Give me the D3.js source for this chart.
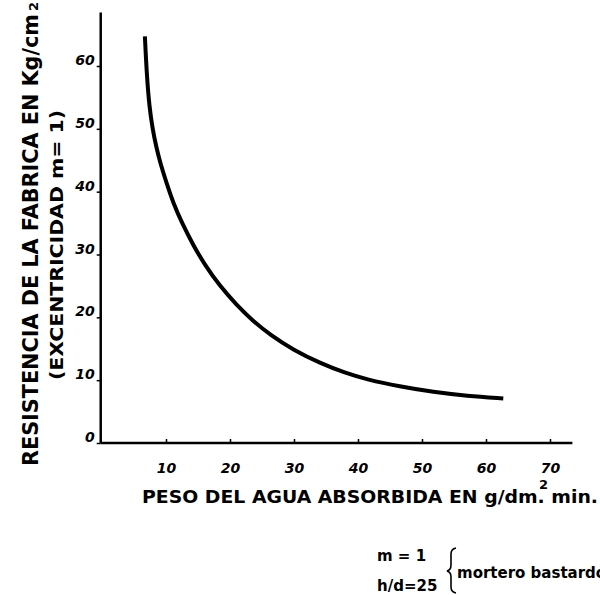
<!DOCTYPE html>
<html>
<head>
<meta charset="utf-8">
<script src="https://cdn.jsdelivr.net/npm/d3@7"></script>
<style>
  body { margin: 0; background: #fff; }
  text { fill: #000; }
</style>
</head>
<body>
<svg id="chart"></svg>
<script>
// data
var absorcion = [6.7, 7.0, 7.4, 7.9, 8.5, 9.1, 10.1, 11.1, 12.5, 14.3, 16.1, 18.4, 21.0, 23.6, 26.3, 29.9, 34.1, 38.0, 41.4, 46.5, 51.8, 57.0, 62.7];
var resistencia = [64.7, 58.5, 53.5, 50.0, 47.0, 44.6, 41.3, 38.3, 35.0, 31.4, 28.3, 25.0, 22.0, 19.4, 17.2, 14.8, 12.7, 11.15, 10.1, 9.0, 8.1, 7.5, 7.1];
var xTicks = [10, 20, 30, 40, 50, 60, 70];
var yTicks = [0, 10, 20, 30, 40, 50, 60];

// basic settings
var width = 600, height = 595;
var svg = d3.select("#chart").attr("width", width).attr("height", height);

var x = d3.scaleLinear().domain([0, 70]).range([102, 550]);
var y = d3.scaleLinear().domain([0, 60]).range([443, 66]);

var data = absorcion.map(function(d, i) { return {x: d, y: resistencia[i]}; });

// axis lines
svg.append("line")
  .attr("x1", x(-0.2)).attr("x2", x(-0.2))
  .attr("y1", y(0)).attr("y2", y(68.5))
  .attr("stroke", "#000").attr("stroke-width", 2.5);
svg.append("line")
  .attr("x1", x(-0.2)).attr("x2", x(73.5))
  .attr("y1", y(0)).attr("y2", y(0))
  .attr("stroke", "#000").attr("stroke-width", 2.5);

// x ticks
var xAxis = svg.append("g")
  .attr("transform", "translate(0," + y(0) + ")")
  .call(d3.axisBottom(x).tickValues(xTicks).tickSize(-4).tickPadding(20));
xAxis.select(".domain").remove();
xAxis.selectAll("line").attr("stroke-width", 1.5);
xAxis.selectAll("text")
  .style("font-family", "DejaVu Sans")
  .style("font-size", "14px")
  .style("font-style", "italic")
  .style("font-weight", "bold");

// y ticks
var yAxis = svg.append("g")
  .attr("transform", "translate(" + x(-0.2) + ",0)")
  .call(d3.axisLeft(y).tickValues(yTicks).tickSize(4).tickPadding(2));
yAxis.select(".domain").remove();
yAxis.selectAll("line").attr("stroke-width", 1.5);
yAxis.selectAll("text")
  .attr("dy", "-0.1em")
  .style("font-family", "DejaVu Sans")
  .style("font-size", "14px")
  .style("font-style", "italic")
  .style("font-weight", "bold");

// curve
var line = d3.line()
  .x(function(d) { return x(d.x); })
  .y(function(d) { return y(d.y); })
  .curve(d3.curveBasis);

svg.append("path")
  .datum(data)
  .attr("d", line)
  .attr("fill", "none")
  .attr("stroke", "#000")
  .attr("stroke-width", 4)
  .attr("stroke-linecap", "butt");

// x title
svg.append("text")
  .attr("x", 142).attr("y", 503)
  .attr("textLength", 456).attr("lengthAdjust", "spacingAndGlyphs")
  .style("font-family", "DejaVu Sans").style("font-weight", "bold").style("font-size", "17px")
  .text("PESO DEL AGUA  ABSORBIDA EN g/dm. min.");
svg.append("text")
  .attr("x", 539).attr("y", 489)
  .style("font-family", "DejaVu Sans").style("font-weight", "bold").style("font-size", "13px")
  .text("2");

// y title
svg.append("text")
  .attr("transform", "translate(38,466) rotate(-90)")
  .attr("textLength", 452).attr("lengthAdjust", "spacingAndGlyphs")
  .style("font-family", "DejaVu Sans").style("font-weight", "bold").style("font-size", "21px")
  .text("RESISTENCIA DE LA FABRICA EN Kg/cm");
svg.append("text")
  .attr("transform", "translate(38,11) rotate(-90)")
  .style("font-family", "DejaVu Sans").style("font-weight", "bold").style("font-size", "13px")
  .text("2");
svg.append("text")
  .attr("transform", "translate(63,380) rotate(-90)")
  .attr("textLength", 270).attr("lengthAdjust", "spacingAndGlyphs")
  .style("font-family", "DejaVu Sans").style("font-weight", "bold").style("font-size", "17px")
  .text("(EXCENTRICIDAD m= 1)");

// note
var note = svg.append("g")
  .style("font-family", "DejaVu Sans").style("font-weight", "bold").style("font-size", "15px");
note.append("text").attr("x", 377).attr("y", 561).text("m = 1");
note.append("text").attr("x", 377).attr("y", 591).text("h/d=25");
note.append("text").attr("x", 457).attr("y", 578).text("mortero bastardo");
note.append("path")
  .attr("d", "M456,548 Q451,549 451,554 L451,565 Q451,570 447,571 Q451,572 451,577 L451,587 Q451,592 456,593")
  .attr("fill", "none").attr("stroke", "#000").attr("stroke-width", 1.6);
</script>
</body>
</html>
